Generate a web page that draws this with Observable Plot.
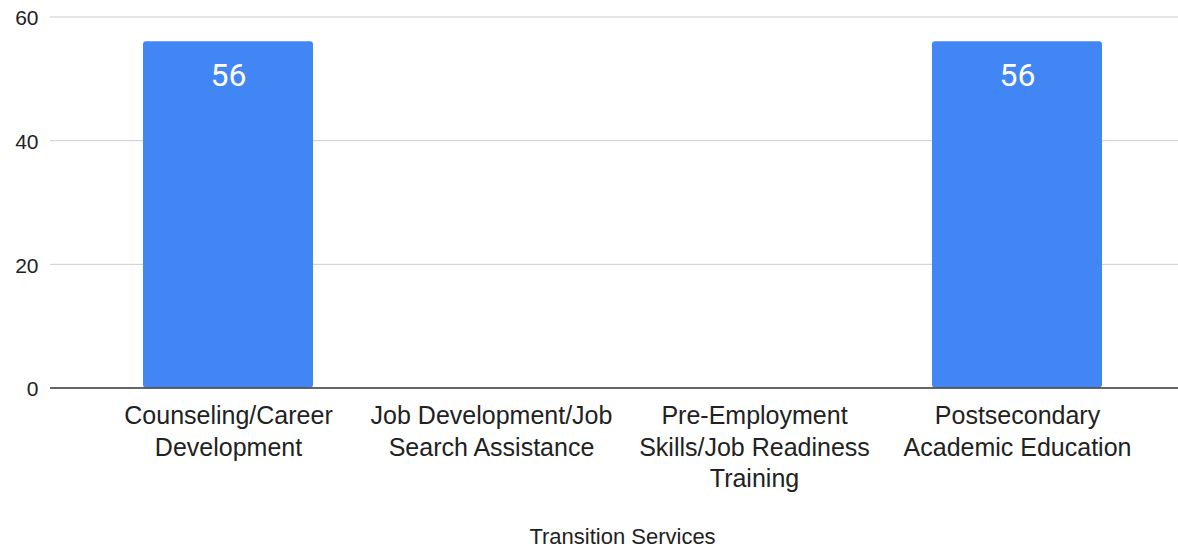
<!DOCTYPE html>
<html><head><meta charset="utf-8">
<script src="https://cdn.jsdelivr.net/npm/d3@7"></script>
<script src="https://cdn.jsdelivr.net/npm/@observablehq/plot@0.6"></script>
<style>body{margin:0;background:#fff;} svg{display:block}</style>
</head><body><div id="chart"></div>
<script>
const categories = ["Counseling/Career Development","Job Development/Job Search Assistance","Pre-Employment Skills/Job Readiness Training","Postsecondary Academic Education"];
const tickLabels = ["Counseling/Career\nDevelopment","Job Development/Job\nSearch Assistance","Pre-Employment\nSkills/Job Readiness\nTraining","Postsecondary\nAcademic Education"];
const values = [56, 0, 0, 56];
const yTicks = [0, 20, 40, 60];
const axisTitle = "Transition Services";

const data = categories.map((c, i) => ({category: c, value: values[i]}));
const labelMap = new Map(categories.map((c, i) => [c, tickLabels[i]]));

const chart = Plot.plot({
  width: 1178, height: 548,
  marginLeft: 50, marginRight: 0, marginTop: 16.5, marginBottom: 160.5,
  style: {fontFamily: "'Liberation Sans', Arial, sans-serif", background: "#fff", color: "#222"},
  x: {domain: categories, paddingInner: 0.354, paddingOuter: 0.177, insetLeft: 46.4, insetRight: 28.7, label: null},
  y: {domain: [0, 60], label: null},
  marks: [
    Plot.ruleY(yTicks.filter(d => d > 0), {stroke: "#cccccc", strokeWidth: 1}),
    Plot.barY(data, {x: "category", y: "value", fill: "#4285f4", rx: 3}),
    Plot.ruleY([0], {stroke: "#333333", strokeWidth: 1.5}),
    Plot.text(data.filter(d => d.value > 0), {x: "category", y: "value", text: d => String(d.value), fill: "white", fontSize: 32, fontFamily: "Roboto", lineAnchor: "top", dy: 22}),
    Plot.axisY({ticks: yTicks, tickSize: 0, tickPadding: 12, fontSize: 21, dy: 1.5, label: null}),
    Plot.axisX({tickSize: 0, tickPadding: 14, fontSize: 25, lineHeight: 1.26, tickFormat: d => labelMap.get(d), label: null}),
    Plot.text([axisTitle], {text: d => d, frameAnchor: "bottom", lineAnchor: "top", dy: 140, dx: 8, fontSize: 22, fill: "#222"})
  ]
});
document.getElementById("chart").appendChild(chart);
</script>
</body></html>
